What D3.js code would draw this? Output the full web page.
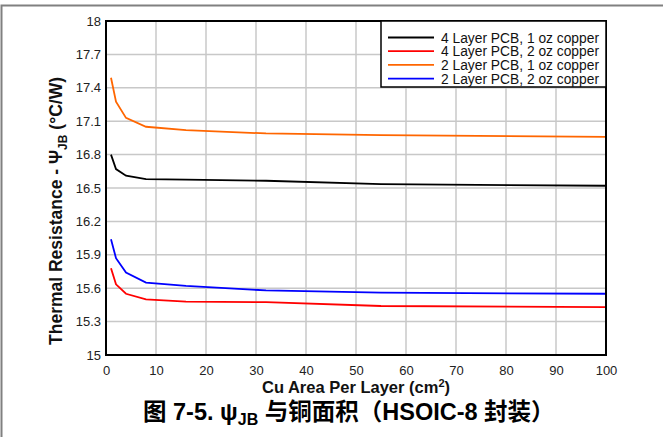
<!DOCTYPE html>
<html>
<head>
<meta charset="utf-8">
<script src="https://cdn.jsdelivr.net/npm/d3@7"></script>
<style>
  body { margin: 0; background: #fff; }
  svg { display: block; font-family: "Liberation Sans", Arial, sans-serif; }
</style>
</head>
<body>
<div id="chart"></div>
<script>
(function () {

  // data
  const areas = [1, 2, 4, 8, 16, 32, 55, 100]
  const series = ['4 Layer PCB, 1 oz copper', '4 Layer PCB, 2 oz copper', '2 Layer PCB, 1 oz copper', '2 Layer PCB, 2 oz copper']
  const fourLayer1oz = [16.80, 16.67, 16.61, 16.58, 16.575, 16.565, 16.535, 16.52]
  const fourLayer2oz = [15.78, 15.635, 15.55, 15.50, 15.48, 15.475, 15.44, 15.43]
  const twoLayer1oz = [17.49, 17.275, 17.13, 17.05, 17.02, 16.99, 16.975, 16.96]
  const twoLayer2oz = [16.04, 15.87, 15.74, 15.65, 15.62, 15.58, 15.56, 15.55]
  const xTicks = [0, 10, 20, 30, 40, 50, 60, 70, 80, 90, 100]
  const yTicks = [15, 15.3, 15.6, 15.9, 16.2, 16.5, 16.8, 17.1, 17.4, 17.7, 18]

  const allValues = [fourLayer1oz, fourLayer2oz, twoLayer1oz, twoLayer2oz]
  const colors = ['#000000', '#ff0000', '#ff6600', '#0000ff']

  const W = 663, H = 437
  const margin = { top: 21, right: 57, bottom: 82, left: 106 }
  const width = W - margin.left - margin.right
  const height = H - margin.top - margin.bottom

  const root = d3.select('#chart').append('svg')
    .attr('width', W)
    .attr('height', H)

  // grey page frame
  root.append('path')
    .attr('d', 'M1.5,' + H + ' V5.5 H' + W)
    .attr('fill', 'none')
    .attr('stroke', '#808080')
    .attr('stroke-width', 2)

  const svg = root.append('g')
    .attr('transform', 'translate(' + margin.left + ',' + margin.top + ')')

  const xPositionScale = d3.scaleLinear().domain([0, 100]).range([0, width])
  const yPositionScale = d3.scaleLinear().domain([15, 18]).range([height, 0])

  // grid
  svg.append('g')
    .selectAll('line')
    .data(xTicks.slice(1, -1))
    .join('line')
    .attr('x1', d => xPositionScale(d))
    .attr('x2', d => xPositionScale(d))
    .attr('y1', 0)
    .attr('y2', height)
    .attr('stroke', '#c8c8c8')
    .attr('stroke-width', 1.5)

  svg.append('g')
    .selectAll('line')
    .data(yTicks.slice(1, -1))
    .join('line')
    .attr('x1', 0)
    .attr('x2', width)
    .attr('y1', d => yPositionScale(d))
    .attr('y2', d => yPositionScale(d))
    .attr('stroke', '#c8c8c8')
    .attr('stroke-width', 1.5)

  // curves
  const line = d3.line()
    .x(d => xPositionScale(d[0]))
    .y(d => yPositionScale(d[1]))

  svg.append('g')
    .selectAll('path')
    .data(allValues)
    .join('path')
    .attr('d', vals => line(areas.map((a, i) => [a, vals[i]])))
    .attr('fill', 'none')
    .attr('stroke', (d, i) => colors[i])
    .attr('stroke-width', 1.8)

  // axes
  const xAxis = d3.axisBottom(xPositionScale)
    .tickValues(xTicks)
    .tickSize(0)
    .tickPadding(11)
  svg.append('g')
    .attr('class', 'axis x-axis')
    .attr('transform', 'translate(0,' + height + ')')
    .call(xAxis)

  const yAxis = d3.axisLeft(yPositionScale)
    .tickValues(yTicks)
    .tickSize(0)
    .tickFormat(d => (d === 15 || d === 18) ? d3.format('d')(d) : d3.format('.1f')(d))
    .tickPadding(5)
  svg.append('g')
    .attr('class', 'axis y-axis')
    .call(yAxis)

  svg.selectAll('.axis .domain').remove()
  svg.selectAll('.axis text')
    .attr('font-size', 13)
    .attr('font-family', '"Liberation Sans", Arial, sans-serif')
    .attr('fill', '#222')

  // plot frame
  svg.append('rect')
    .attr('width', width)
    .attr('height', height)
    .attr('fill', 'none')
    .attr('stroke', '#000')
    .attr('stroke-width', 2)

  // legend
  const legend = svg.append('g')
    .attr('transform', 'translate(' + (xPositionScale(55)) + ',0)')

  legend.append('rect')
    .attr('width', width - xPositionScale(55))
    .attr('height', 66)
    .attr('fill', '#fff')
    .attr('stroke', '#000')
    .attr('stroke-width', 1.5)

  legend.selectAll('line')
    .data(series)
    .join('line')
    .attr('x1', 7)
    .attr('x2', 53)
    .attr('y1', (d, i) => 16.5 + i * 13.7)
    .attr('y2', (d, i) => 16.5 + i * 13.7)
    .attr('stroke', (d, i) => colors[i])
    .attr('stroke-width', 1.8)

  legend.selectAll('text')
    .data(series)
    .join('text')
    .attr('x', 60)
    .attr('y', (d, i) => 16.5 + i * 13.7)
    .attr('dy', 5)
    .attr('font-size', 13.8)
    .attr('fill', '#111')
    .text(d => d)

  // axis titles
  const xTitle = root.append('text')
    .attr('x', margin.left + width / 2)
    .attr('y', 393)
    .attr('text-anchor', 'middle')
    .attr('font-size', 16.5)
    .attr('font-weight', 'bold')
    .attr('fill', '#111')
  xTitle.append('tspan').text('Cu Area Per Layer (cm')
  xTitle.append('tspan').attr('dy', -6).attr('font-size', 11).text('2')
  xTitle.append('tspan').attr('dy', 6).text(')')

  const yTitle = root.append('text')
    .attr('transform', 'translate(62,211) rotate(-90)')
    .attr('text-anchor', 'middle')
    .attr('font-size', 17.5)
    .attr('font-weight', 'bold')
    .attr('fill', '#111')
  yTitle.append('tspan').text('Thermal Resistance - Ψ')
  yTitle.append('tspan').attr('dy', 5).attr('font-size', 12).text('JB')
  yTitle.append('tspan').attr('dy', -5).text(' (°C/W)')

  // caption
  const caption = root.append('text')
    .attr('x', 143)
    .attr('y', 420)
    .attr('font-size', 23.5)
    .attr('font-weight', 'bold')
    .attr('fill', '#000')
    .attr('font-family', '"Liberation Sans", "Noto Sans CJK SC", sans-serif')
  caption.append('tspan').text('图 7-5. ψ')
  caption.append('tspan').attr('dy', 5).attr('font-size', 16).text('JB')
  caption.append('tspan').attr('dy', -5).text(' 与铜面积（HSOIC-8 封装）')

})();
</script>
</body>
</html>
